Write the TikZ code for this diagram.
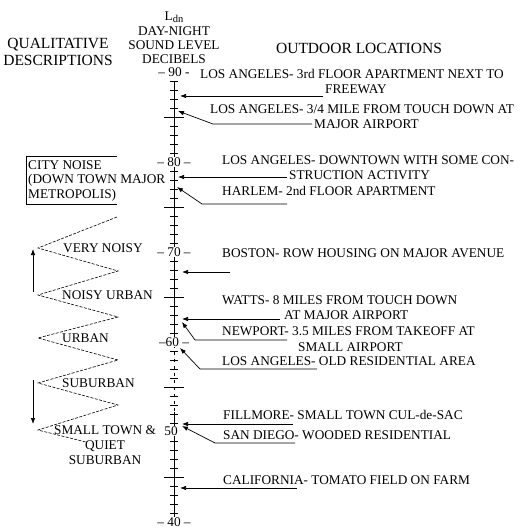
\documentclass[tikz,border=0pt]{standalone}
\usepackage{fontspec}
\setmainfont{Liberation Serif}
\usetikzlibrary{arrows.meta,positioning}
\tikzset{>=latex}
\tikzset{
  lbl/.style={font=\fontsize{13.3}{15}\selectfont, inner sep=0pt},
  hdr/.style={font=\fontsize{15.5}{17}\selectfont, inner sep=0pt},
  lvl/.style={font=\fontsize{13.3}{15}\selectfont, inner sep=1pt, fill=white},
  ptr/.style={-{Latex[length=6pt,width=4.5pt]}, line width=0.7pt},
  zig/.style={dash pattern=on 3pt off 1.4pt, line width=0.6pt},
}

\begin{document}
\begin{tikzpicture}[x=1pt,y=-1pt]
\useasboundingbox (0,0) rectangle (520,529);
% scale axis
\draw[line width=0.8pt] (174,81) -- (174,345);
\draw[line width=0.8pt, dash pattern=on 3pt off 4pt] (174,345) -- (174,412);
\draw[line width=0.8pt] (174,412) -- (174,517);
\foreach \d in {41,...,89}{
  \pgfmathsetmacro\yy{72+(90-\d)*9.0}
  \pgfmathtruncatemacro\rt{mod(\d,10)}
  \pgfmathtruncatemacro\rf{mod(\d,5)}
  \ifnum\rt=0 \else
    \ifnum\rf=0 \draw[line width=0.7pt] (164,\yy) -- (184,\yy);
    \else \draw[line width=0.7pt] (170,\yy) -- (178,\yy); \fi
  \fi
}
\node[lvl] (v90) at (174,72) {– 90 -};
\node[lvl] (v80) at (174,162) {– 80 –};
\node[lvl] (v70) at (174,252) {– 70 –};
\node[lvl] (v60) at (174,342) {–60 –};
\node[lvl] (v50) at (171,431) {50};
\node[lvl] (v40) at (174,522) {– 40 –};
% headings
\node[lbl] (ldn) at (174,17) {L\raisebox{-0.4ex}{\fontsize{10.5}{11}\selectfont dn}};
\node[lbl] (dnt) at (174,31) {DAY-NIGHT};
\node[lbl] (snd) at (174,45) {SOUND LEVEL};
\node[lbl] (dcb) at (174,59) {DECIBELS};
\node[hdr] (qd1) at (58,45) {QUALITATIVE};
\node[hdr] (qd2) at (58,60) {DESCRIPTIONS};
\node[hdr] (odl) at (359,48) {OUTDOOR LOCATIONS};
% outdoor locations
\node[lbl, anchor=west] (a1) at (200,74) {LOS ANGELES- 3rd FLOOR APARTMENT NEXT TO};
\node[lbl, anchor=west] (a1b) at (325,89) {FREEWAY};
\node[lbl, anchor=west] (a2) at (210,109) {LOS ANGELES- 3/4 MILE FROM TOUCH DOWN AT};
\node[lbl, anchor=west] (a2b) at (314,124) {MAJOR AIRPORT};
\node[lbl, anchor=west] (a3) at (222,160) {LOS ANGELES- DOWNTOWN WITH SOME CON-};
\node[lbl, anchor=west] (a3b) at (289,175) {STRUCTION ACTIVITY};
\node[lbl, anchor=west] (a4) at (222,191) {HARLEM- 2nd FLOOR APARTMENT};
\node[lbl, anchor=west] (a5) at (222,253) {BOSTON- ROW HOUSING ON MAJOR AVENUE};
\node[lbl, anchor=west] (a6) at (222,300) {WATTS- 8 MILES FROM TOUCH DOWN};
\node[lbl, anchor=west] (a6b) at (284,315) {AT MAJOR AIRPORT};
\node[lbl, anchor=west] (a7) at (222,331) {NEWPORT- 3.5 MILES FROM TAKEOFF AT};
\node[lbl, anchor=west] (a7b) at (298,347) {SMALL AIRPORT};
\node[lbl, anchor=west] (a8) at (222,361) {LOS ANGELES- OLD RESIDENTIAL AREA};
\node[lbl, anchor=west] (a9) at (223,415) {FILLMORE- SMALL TOWN CUL-de-SAC};
\node[lbl, anchor=west] (a10) at (223,435) {SAN DIEGO- WOODED RESIDENTIAL};
\node[lbl, anchor=west] (a11) at (223,480) {CALIFORNIA- TOMATO FIELD ON FARM};
% pointer ends
\coordinate (p1) at (180,96);  \coordinate (q1) at (323,96);
\coordinate (p2) at (178,111); \coordinate (k2) at (213,124); \coordinate (q2) at (312,124);
\coordinate (p3) at (178,177); \coordinate (q3) at (287,177);
\coordinate (p4) at (177,187); \coordinate (k4) at (202,204); \coordinate (q4) at (287,204);
\coordinate (p5) at (182,272); \coordinate (q5) at (230,272);
\coordinate (p6) at (182,319); \coordinate (q6) at (280,319);
\coordinate (p7) at (182,322); \coordinate (k7) at (195,340); \coordinate (q7) at (287,340);
\coordinate (p8) at (180,348); \coordinate (k8) at (200,369); \coordinate (q8) at (317,369);
\coordinate (p9) at (182,424); \coordinate (q9) at (293,424);
\coordinate (p10) at (182,426); \coordinate (k10) at (215,443); \coordinate (q10) at (295,443);
\coordinate (p11) at (180,488); \coordinate (q11) at (297,488);
\draw[ptr] (q1) -- (p1);
\draw[ptr] (q2) -- (k2) -- (p2);
\draw[ptr] (q3) -- (p3);
\draw[ptr] (q4) -- (k4) -- (p4);
\draw[ptr] (q5) -- (p5);
\draw[ptr] (q6) -- (p6);
\draw[ptr] (q7) -- (k7) -- (p7);
\draw[ptr] (q8) -- (k8) -- (p8);
\draw[ptr] (q9) -- (p9);
\draw[ptr] (q10) -- (k10) -- (p10);
\draw[ptr] (q11) -- (p11);
% qualitative descriptions
\draw[line width=0.7pt] (117,156) -- (26,156) -- (26,204) -- (117,204);
\node[lbl, anchor=west] (cn1) at (28,165) {CITY NOISE};
\node[lbl, anchor=west] (cn2) at (28,180) {(DOWN TOWN MAJOR};
\node[lbl, anchor=west] (cn3) at (28,195) {METROPOLIS)};
\draw[zig] (117,217) -- (38,248) -- (118,271) -- (38,295) -- (118,317) -- (38,338)
  -- (118,360) -- (38,383) -- (118,405) -- (38,430) -- (86,442);
\node[lbl, anchor=west] (vn) at (63,248) {VERY NOISY};
\node[lbl, anchor=west] (nu) at (62,295) {NOISY URBAN};
\node[lbl, anchor=west] (ur) at (62,338) {URBAN};
\node[lbl, anchor=west] (su) at (62,383) {SUBURBAN};
\node[lbl, align=center, font=\fontsize{13.3}{15}\selectfont] (st) at (105,445) {SMALL TOWN \&\\QUIET\\SUBURBAN};
\coordinate (u0) at (33,292); \coordinate (u1) at (33,249);
\coordinate (d0) at (33,380); \coordinate (d1) at (33,424);
\draw[ptr] (u0) -- (u1);
\draw[ptr] (d0) -- (d1);
\end{tikzpicture}
\end{document}
